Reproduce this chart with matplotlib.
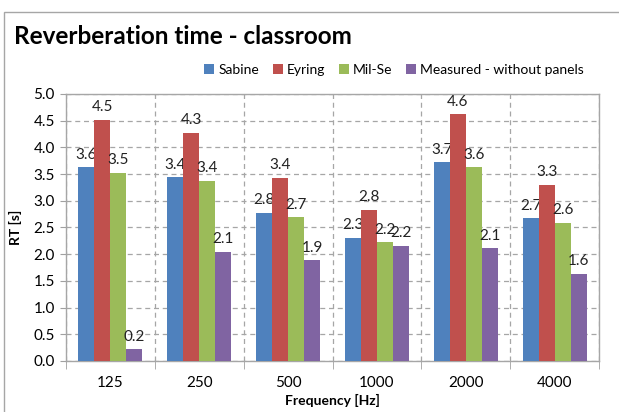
import numpy as np
import matplotlib.pyplot as plt
from matplotlib.patches import Rectangle

plt.rcParams['font.family'] = ['Lato', 'DejaVu Sans']

frequencias = ['125', '250', '500', '1000', '2000', '4000']
sabine = [3.63, 3.44, 2.78, 2.31, 3.72, 2.67]
eyring = [4.52, 4.27, 3.43, 2.83, 4.62, 3.30]
milse = [3.52, 3.37, 2.69, 2.22, 3.63, 2.59]
medido = [0.22, 2.05, 1.89, 2.16, 2.11, 1.63]

series = [
    ('Sabine', sabine, '#4F81BD'),
    ('Eyring', eyring, '#C0504D'),
    ('Mil-Se', milse, '#9BBB59'),
    ('Measured - without panels', medido, '#8064A2'),
]

fig = plt.figure(figsize=(6.19, 4.12), dpi=100)
ax = fig.add_axes([66 / 619, 51 / 412, 533 / 619, 267 / 412])

# borda externa do grafico
fig.patches.append(Rectangle((4 / 619, -0.1), 1.2, 400 / 412 + 0.1,
                             transform=fig.transFigure, fill=False,
                             edgecolor='#A6A6A6', linewidth=1.0))

x = np.arange(len(frequencias))
largura = 0.18
for i, (nome, valores, cor) in enumerate(series):
    pos = x + (i - 1.5) * largura
    barras = ax.bar(pos, valores, largura, color=cor, label=nome, zorder=3)
    for b, v in zip(barras, valores):
        ax.annotate(f'{v + 1e-9:.1f}', (b.get_x() + b.get_width() / 2, v),
                    xytext=(0, 4), textcoords='offset points',
                    ha='center', va='bottom', fontsize=11, color='#222222')

ax.set_xlim(-0.5, len(frequencias) - 0.5)
ax.set_ylim(0, 5)
ax.set_yticks(np.arange(0, 5.01, 0.5))
ax.set_yticklabels([f'{t:.1f}' for t in np.arange(0, 5.01, 0.5)])
ax.set_xticks(x)
ax.set_xticklabels(frequencias)
ax.set_xticks(np.arange(-0.5, len(frequencias), 1), minor=True)

ax.tick_params(axis='x', which='major', length=0, pad=11, labelsize=11)
ax.tick_params(axis='x', which='minor', length=6, color='#A0A0A0', direction='out')
ax.tick_params(axis='y', length=4, color='#A0A0A0', labelsize=11, pad=4)

ax.grid(axis='y', which='major', linestyle=(0, (4, 3)), color='#A6A6A6', linewidth=0.9, zorder=0)
ax.grid(axis='x', which='minor', linestyle=(0, (4, 3)), color='#A6A6A6', linewidth=0.9, zorder=0)

for s in ax.spines.values():
    s.set_color('#A6A6A6')
    s.set_linewidth(1.0)

ax.set_ylabel('RT [s]', fontsize=10, fontweight='bold', labelpad=8)
ax.set_xlabel('Frequency [Hz]', fontsize=10, fontweight='bold', labelpad=3)

fig.text(14 / 619, 1 - 36 / 412, 'Reverberation time - classroom', fontsize=17.5,
         fontweight='bold', ha='left', va='center')

ax.legend(loc='center right', bbox_to_anchor=(518 / 533, 1 + 24 / 267), ncol=4,
          frameon=False, fontsize=10, handlelength=0.7, handleheight=0.7,
          handletextpad=0.3, columnspacing=1.0, borderaxespad=0.0, borderpad=0.0)

fig.savefig('out.png', dpi=100)
